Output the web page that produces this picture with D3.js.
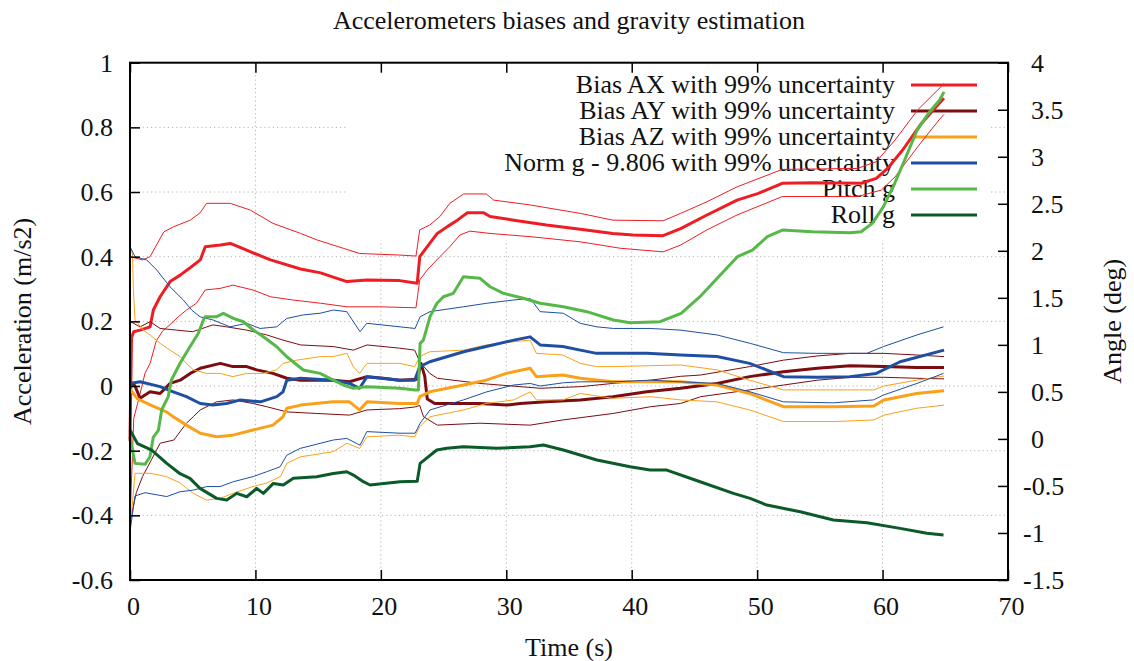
<!DOCTYPE html>
<html><head><meta charset="utf-8">
<script src="https://cdn.jsdelivr.net/npm/d3@7"></script>
<style>
html,body{margin:0;padding:0;background:#fff;}
svg{display:block;}
svg text{font-family:"Liberation Serif","Times New Roman",serif !important;}
</style></head><body>
<svg id="c" width="1134" height="661"></svg>
<script>
// ---------- data ----------
const titleText = "Accelerometers biases and gravity estimation";
const xLabel = "Time (s)";
const yLeftLabel = "Acceleration (m/s2)";
const yRightLabel = "Angle (deg)";
const xTicks = [0,10,20,30,40,50,60,70];
const yLeftTicks = [-0.6,-0.4,-0.2,0,0.2,0.4,0.6,0.8,1];
const yRightTicks = [-1.5,-1,-0.5,0,0.5,1,1.5,2,2.5,3,3.5,4];
const legendLabels = ["Bias AX with 99% uncertainty","Bias AY with 99% uncertainty","Bias AZ with 99% uncertainty","Norm g - 9.806 with 99% uncertainty","Pitch g","Roll g"];

// [time (s), value]
const biasAX = [[0,-0.17],[0.12,0.15],[0.3,0.168],[0.8,0.173],[1.6,0.183],[1.86,0.235],[2.4,0.276],[3.2,0.323],[4.0,0.343],[4.9,0.369],[5.6,0.39],[6.0,0.431],[7.2,0.436],[8.0,0.441],[9.3,0.42],[11.2,0.39],[13.6,0.362],[15.2,0.35],[16.2,0.337],[17.3,0.323],[18.9,0.328],[21.5,0.326],[22.9,0.318],[23.1,0.40],[23.7,0.431],[24.5,0.472],[25.3,0.493],[26.1,0.513],[26.9,0.536],[28.2,0.536],[28.7,0.524],[30.6,0.513],[33.2,0.498],[35.9,0.485],[38.5,0.472],[40.1,0.467],[42.5,0.465],[43.9,0.487],[46.0,0.529],[48.4,0.575],[50.1,0.596],[52.0,0.627],[54.4,0.629],[58.3,0.627],[59.5,0.642],[60.4,0.673],[61.6,0.73],[63.1,0.812],[64.5,0.874],[64.9,0.89]];
const biasAXUp = [[0,0.40],[1.0,0.39],[1.6,0.40],[2.7,0.477],[3.5,0.493],[4.8,0.513],[5.6,0.536],[6.1,0.565],[8.0,0.565],[9.6,0.544],[11.4,0.503],[13.6,0.472],[14.9,0.452],[17.0,0.426],[18.3,0.41],[21.5,0.405],[22.8,0.402],[23.1,0.483],[23.9,0.498],[24.7,0.524],[25.5,0.565],[26.6,0.594],[28.4,0.594],[29.0,0.575],[31.9,0.56],[35.9,0.534],[38.5,0.513],[42.5,0.511],[43.9,0.534],[46.0,0.57],[48.4,0.616],[52.0,0.67],[58.0,0.673],[59.5,0.694],[61.0,0.761],[62.8,0.854],[64.9,0.935]];
const biasAXLo = [[0,-0.42],[0.3,-0.1],[0.7,-0.04],[1.2,0.04],[1.6,0.07],[2.1,0.14],[2.6,0.17],[3.2,0.19],[3.85,0.214],[4.5,0.235],[5.3,0.256],[6.0,0.297],[7.2,0.302],[8.2,0.312],[9.8,0.297],[11.2,0.276],[13.0,0.266],[15.2,0.256],[17.3,0.245],[19.9,0.245],[22.8,0.242],[23.1,0.328],[23.7,0.359],[24.7,0.40],[25.5,0.431],[26.3,0.467],[27.1,0.479],[28.7,0.472],[31.9,0.462],[35.9,0.446],[39.1,0.426],[42.5,0.415],[43.9,0.436],[46.0,0.483],[48.4,0.529],[52.0,0.586],[58.0,0.586],[59.9,0.606],[61.0,0.647],[62.8,0.74],[64.5,0.823],[64.9,0.84]];

const biasAY = [[0,0.013],[0.4,0.0],[0.8,-0.038],[1.6,-0.018],[2.4,-0.023],[3.2,0.008],[4.0,0.018],[4.8,0.039],[5.6,0.055],[7.2,0.07],[8.2,0.06],[9.3,0.06],[10.1,0.05],[11.4,0.039],[12.5,0.024],[13.6,0.018],[16.2,0.018],[17.5,0.013],[18.9,0.029],[20.2,0.024],[21.5,0.018],[22.9,0.021],[23.2,0.07],[23.5,0.03],[23.7,-0.04],[24.3,-0.054],[27.9,-0.054],[30.0,-0.059],[31.1,-0.054],[33.2,-0.049],[35.9,-0.043],[38.5,-0.033],[41.2,-0.018],[43.9,-0.007],[46.8,0.008],[49.4,0.029],[52.1,0.044],[54.8,0.055],[57.4,0.063],[60.1,0.06],[62.7,0.057],[64.9,0.057]];
const biasAYUp = [[0,0.20],[0.8,0.183],[1.6,0.199],[2.4,0.178],[3.7,0.173],[5.0,0.168],[6.6,0.189],[7.7,0.183],[9.3,0.173],[10.9,0.158],[12.2,0.142],[13.6,0.127],[16.2,0.122],[17.8,0.111],[18.9,0.127],[21.5,0.117],[22.7,0.111],[23.1,0.075],[23.9,0.039],[24.5,0.024],[27.9,0.008],[32.7,-0.007],[35.9,-0.002],[38.5,0.008],[41.5,0.018],[43.9,0.03],[45.5,0.034],[49.4,0.06],[52.1,0.08],[54.8,0.093],[57.4,0.101],[60.1,0.101],[62.7,0.096],[64.9,0.091]];
const biasAYLo = [[0,-0.42],[0.5,-0.33],[1.0,-0.28],[1.7,-0.229],[2.4,-0.177],[3.5,-0.167],[4.5,-0.115],[5.05,-0.095],[5.6,-0.074],[6.9,-0.049],[8.2,-0.043],[9.8,-0.054],[10.9,-0.064],[12.5,-0.08],[14.9,-0.085],[17.5,-0.09],[18.9,-0.074],[21.5,-0.07],[22.7,-0.065],[23.1,-0.06],[23.4,-0.095],[24.5,-0.121],[27.9,-0.115],[31.9,-0.121],[34.5,-0.105],[38.5,-0.085],[41.5,-0.064],[43.9,-0.054],[45.5,-0.033],[49.4,-0.012],[52.1,0.003],[54.8,0.018],[57.4,0.027],[60.1,0.027],[62.7,0.024],[64.9,0.022]];

const biasAZ = [[0,-0.01],[0.6,-0.04],[1.7,-0.06],[2.9,-0.08],[3.45,-0.095],[4.5,-0.121],[5.6,-0.146],[6.9,-0.157],[8.2,-0.152],[9.8,-0.136],[11.4,-0.121],[12.2,-0.095],[12.5,-0.069],[13.6,-0.059],[16.2,-0.049],[17.5,-0.049],[18.3,-0.074],[18.9,-0.049],[21.5,-0.054],[22.9,-0.054],[23.1,-0.033],[23.9,-0.018],[26.6,0.003],[28.4,0.018],[30.0,0.039],[31.9,0.055],[32.4,0.029],[34.5,0.034],[35.9,0.024],[38.5,0.013],[41.5,0.013],[43.9,0.013],[46.8,0.003],[49.4,-0.023],[52.1,-0.064],[56.1,-0.064],[59.3,-0.062],[60.1,-0.043],[62.7,-0.023],[64.9,-0.015]];
const biasAZUp = [[0,0.43],[0.2,0.41],[0.26,0.307],[0.4,0.204],[1.06,0.173],[1.6,0.158],[2.4,0.132],[3.2,0.111],[4.0,0.091],[4.5,0.07],[5.05,0.05],[6.1,0.039],[7.2,0.039],[8.2,0.029],[9.3,0.039],[10.6,0.039],[11.7,0.05],[12.2,0.07],[13.3,0.08],[15.2,0.091],[16.2,0.091],[17.3,0.101],[17.8,0.06],[18.3,0.039],[18.9,0.07],[21.5,0.07],[22.7,0.06],[23.1,0.091],[23.9,0.106],[26.6,0.111],[28.4,0.127],[30.6,0.137],[31.9,0.142],[32.4,0.101],[34.5,0.096],[35.9,0.07],[37.2,0.06],[38.5,0.06],[41.5,0.063],[43.9,0.065],[46.8,0.05],[49.4,0.018],[52.1,-0.012],[56.1,-0.012],[59.3,-0.012],[60.1,0.0],[62.7,0.018],[64.9,0.031]];
const biasAZLo = [[0,-0.45],[0.4,-0.27],[1.6,-0.27],[2.9,-0.28],[4.0,-0.30],[5.05,-0.332],[6.1,-0.353],[7.2,-0.347],[8.2,-0.332],[9.8,-0.311],[10.9,-0.30],[12.0,-0.28],[12.5,-0.239],[13.6,-0.219],[16.2,-0.203],[17.3,-0.177],[18.3,-0.193],[18.9,-0.157],[21.5,-0.152],[22.7,-0.157],[23.1,-0.126],[23.9,-0.095],[26.6,-0.074],[28.4,-0.054],[30.6,-0.043],[31.9,-0.018],[32.4,-0.043],[34.5,-0.043],[35.9,-0.023],[38.5,-0.038],[41.5,-0.033],[43.9,-0.043],[46.8,-0.049],[49.4,-0.074],[52.1,-0.11],[56.1,-0.11],[59.3,-0.105],[60.1,-0.09],[62.7,-0.069],[64.9,-0.059]];

const normG = [[0,0.008],[0.8,0.013],[2.4,-0.002],[3.45,-0.018],[4.5,-0.033],[5.6,-0.054],[6.6,-0.059],[7.7,-0.054],[8.8,-0.043],[10.4,-0.049],[11.7,-0.033],[12.2,-0.018],[12.5,0.018],[13.6,0.024],[16.2,0.018],[17.5,0.008],[18.3,-0.007],[18.9,0.029],[21.5,0.018],[22.7,0.018],[23.1,0.06],[23.9,0.075],[26.6,0.106],[28.4,0.122],[30.6,0.142],[31.9,0.152],[32.7,0.127],[34.5,0.122],[35.9,0.111],[37.2,0.101],[41.2,0.101],[43.9,0.096],[46.8,0.091],[49.4,0.07],[52.1,0.029],[54.8,0.027],[57.4,0.029],[59.5,0.039],[61.4,0.075],[64.9,0.111]];
const normGUp = [[0,0.431],[0.4,0.40],[1.33,0.39],[2.13,0.359],[3.19,0.307],[4.25,0.266],[4.92,0.235],[5.58,0.214],[6.64,0.204],[7.97,0.183],[9.31,0.194],[10.37,0.178],[11.7,0.183],[12.5,0.209],[13.82,0.22],[15.15,0.225],[16.21,0.235],[17.28,0.23],[18.34,0.168],[18.88,0.194],[21.53,0.183],[22.73,0.178],[23.13,0.214],[23.92,0.23],[26.58,0.245],[28.45,0.256],[30.57,0.266],[31.9,0.271],[32.7,0.23],[34.55,0.225],[35.89,0.194],[37.22,0.183],[38.54,0.178],[41.47,0.178],[43.86,0.173],[46.79,0.158],[49.44,0.132],[52.1,0.103],[54.76,0.101],[58.75,0.101],[60.07,0.122],[62.74,0.158],[64.86,0.183]];
const normGLo = [[0,-0.45],[0.4,-0.34],[1.2,-0.33],[2.93,-0.342],[3.99,-0.327],[5.05,-0.322],[6.12,-0.311],[7.18,-0.311],[8.24,-0.296],[9.83,-0.28],[10.9,-0.265],[11.96,-0.25],[12.5,-0.214],[13.56,-0.193],[16.21,-0.167],[17.28,-0.162],[18.34,-0.183],[18.88,-0.141],[21.53,-0.146],[22.73,-0.146],[23.13,-0.115],[23.92,-0.074],[26.58,-0.043],[28.45,-0.018],[30.57,0.003],[31.9,0.008],[32.7,0.0],[34.55,0.01],[35.89,0.013],[38.54,0.013],[41.47,0.018],[43.86,0.013],[46.79,0.008],[49.44,-0.018],[52.1,-0.049],[56.08,-0.052],[59.27,-0.043],[60.07,-0.028],[62.74,0.008],[64.86,0.039]];

// angles, degrees (right axis)
const pitchG = [[0,0.02],[0.4,-0.26],[1.2,-0.27],[1.59,-0.19],[1.86,0.02],[2.26,0.09],[2.53,0.31],[3.05,0.45],[3.3,0.626],[3.99,0.804],[4.78,0.98],[5.45,1.123],[5.85,1.264],[5.98,1.30],[6.91,1.30],[7.44,1.335],[8.24,1.282],[9.04,1.246],[9.83,1.158],[10.63,1.087],[11.7,0.98],[12.5,0.874],[13.82,0.733],[15.15,0.697],[16.21,0.626],[17.01,0.573],[17.81,0.538],[18.88,0.555],[21.53,0.538],[22.73,0.52],[22.99,0.52],[23.13,1.016],[23.39,1.05],[23.92,1.30],[24.46,1.44],[24.98,1.512],[25.78,1.548],[26.58,1.725],[27.91,1.707],[28.71,1.618],[29.77,1.548],[31.36,1.495],[32.7,1.442],[34.55,1.406],[36.42,1.353],[38.54,1.264],[39.87,1.236],[42.26,1.246],[43.94,1.335],[45.44,1.512],[46.93,1.725],[48.43,1.937],[49.62,2.008],[50.81,2.15],[52.01,2.221],[54.4,2.203],[57.38,2.192],[58.29,2.203],[59.18,2.292],[60.07,2.469],[60.97,2.718],[61.87,3.0],[62.76,3.284],[63.66,3.462],[64.55,3.603],[64.9,3.69]];
const rollG = [[0,0.095],[0.6,-0.05],[1.73,-0.12],[2.93,-0.26],[3.99,-0.37],[4.78,-0.419],[5.58,-0.526],[6.91,-0.632],[7.71,-0.65],[8.51,-0.579],[9.31,-0.615],[10.1,-0.526],[10.63,-0.579],[11.43,-0.473],[12.22,-0.49],[13.02,-0.419],[14.89,-0.402],[16.21,-0.367],[17.28,-0.349],[17.81,-0.384],[18.6,-0.455],[19.14,-0.49],[21.53,-0.455],[22.9,-0.45],[23.13,-0.26],[24.46,-0.118],[25.26,-0.1],[26.58,-0.083],[29.24,-0.1],[31.9,-0.083],[32.96,-0.065],[34.55,-0.118],[37.22,-0.224],[39.87,-0.296],[41.47,-0.331],[42.8,-0.331],[45.45,-0.455],[48.11,-0.579],[49.44,-0.632],[50.77,-0.703],[53.43,-0.774],[56.08,-0.862],[58.75,-0.891],[61.4,-0.951],[63.53,-1.004],[64.86,-1.022]];

// ---------- drawing ----------
const L = 130, R = 1008, T = 62.7, B = 580;
const FONT = 26;
const svg = d3.select("#c");
const x = d3.scaleLinear().domain([0,70]).range([L,R]);
const yL = d3.scaleLinear().domain([-0.6,1]).range([B,T]);
const yR = d3.scaleLinear().domain([-1.5,4]).range([B,T]);
const fmt = d => String(+(+d).toFixed(2));

const colors = {ax:"#ee1d23", ay:"#7b0d10", az:"#f9a11b", ng:"#1e4fa3", pitch:"#55b848", roll:"#0b5a2a"};

// grid
const grid = svg.append("g").attr("stroke","#b4b4b4").attr("stroke-width",1).attr("stroke-dasharray","1.2,3");
grid.selectAll("line.v").data(xTicks.filter(d=>d>0&&d<70)).join("line")
  .attr("x1",d=>x(d)).attr("x2",d=>x(d)).attr("y1",T).attr("y2",B);
grid.selectAll("line.h").data(yLeftTicks.filter(d=>d>-0.6&&d<1)).join("line")
  .attr("y1",d=>yL(d)).attr("y2",d=>yL(d)).attr("x1",L).attr("x2",R);

// legend box (opaque, hides grid)
svg.append("rect").attr("x",347).attr("y",64).attr("width",643).attr("height",176).attr("fill","#fff");

// legend
const legendColors = [colors.ax,colors.ay,colors.az,colors.ng,colors.pitch,colors.roll];
const lg = svg.append("g");
legendLabels.forEach((lab,i)=>{
  const yy = 85 + i*26;
  lg.append("text").attr("x",895).attr("y",yy+8).attr("text-anchor","end")
    .attr("font-size",FONT).attr("fill","#111").text(lab);
  lg.append("line").attr("x1",911).attr("x2",977).attr("y1",yy).attr("y2",yy)
    .attr("stroke",legendColors[i]).attr("stroke-width",3);
});

// lines
const lineL = d3.line().x(d=>x(d[0])).y(d=>yL(d[1]));
const lineR = d3.line().x(d=>x(d[0])).y(d=>yR(d[1]));
const plot = svg.append("g").attr("fill","none").attr("stroke-linejoin","round");
function draw(data, gen, color, w){
  plot.append("path").datum(data).attr("d",gen).attr("stroke",color).attr("stroke-width",w);
}
draw(biasAXUp,lineL,colors.ax,1); draw(biasAXLo,lineL,colors.ax,1); draw(biasAX,lineL,colors.ax,3);
draw(biasAYUp,lineL,colors.ay,1); draw(biasAYLo,lineL,colors.ay,1); draw(biasAY,lineL,colors.ay,3);
draw(biasAZUp,lineL,colors.az,1); draw(biasAZLo,lineL,colors.az,1); draw(biasAZ,lineL,colors.az,3);
draw(normGUp,lineL,colors.ng,1); draw(normGLo,lineL,colors.ng,1); draw(normG,lineL,colors.ng,3);
draw(pitchG,lineR,colors.pitch,3);
draw(rollG,lineR,colors.roll,3);

// axes
function styleAxis(g){
  g.attr("font-family",null).attr("font-size",FONT);
  g.select(".domain").remove();
  g.selectAll(".tick line").attr("stroke","#000").attr("stroke-width",1.5);
  g.selectAll("text").attr("font-size",FONT).attr("fill","#111");
}
svg.append("g").attr("transform",`translate(${L},0)`)
  .call(d3.axisLeft(yL).tickValues(yLeftTicks).tickFormat(fmt).tickSizeInner(-10).tickSizeOuter(0).tickPadding(17))
  .call(styleAxis);
svg.append("g").attr("transform",`translate(${R},0)`)
  .call(d3.axisRight(yR).tickValues(yRightTicks).tickFormat(fmt).tickSizeInner(-10).tickSizeOuter(0).tickPadding(23))
  .call(styleAxis)
  .call(g=>g.selectAll(".tick text").attr("x",d=>d<0?15:23));
svg.append("g").attr("transform",`translate(0,${B})`)
  .call(d3.axisBottom(x).tickValues(xTicks).tickFormat(fmt).tickSizeInner(-10).tickSizeOuter(0).tickPadding(17))
  .call(styleAxis)
  .call(g=>g.selectAll(".tick text").attr("dx",3));
svg.append("g").attr("transform",`translate(0,${T})`)
  .call(d3.axisTop(x).tickValues(xTicks).tickFormat("").tickSizeInner(-10).tickSizeOuter(0))
  .call(styleAxis);

// frame
svg.append("rect").attr("x",L).attr("y",T).attr("width",R-L).attr("height",B-T)
  .attr("fill","none").attr("stroke","#000").attr("stroke-width",2);

// titles
svg.append("text").attr("x",(L+R)/2).attr("y",29).attr("text-anchor","middle")
  .attr("font-size",FONT).attr("fill","#111").text(titleText);
svg.append("text").attr("x",(L+R)/2).attr("y",656).attr("text-anchor","middle")
  .attr("font-size",FONT).attr("fill","#111").text(xLabel);
svg.append("text").attr("transform",`translate(31,${(T+B)/2}) rotate(-90)`).attr("text-anchor","middle")
  .attr("font-size",FONT).attr("fill","#111").text(yLeftLabel);
svg.append("text").attr("transform",`translate(1121,${(T+B)/2}) rotate(-90)`).attr("text-anchor","middle")
  .attr("font-size",FONT).attr("fill","#111").text(yRightLabel);
</script>
</body></html>
